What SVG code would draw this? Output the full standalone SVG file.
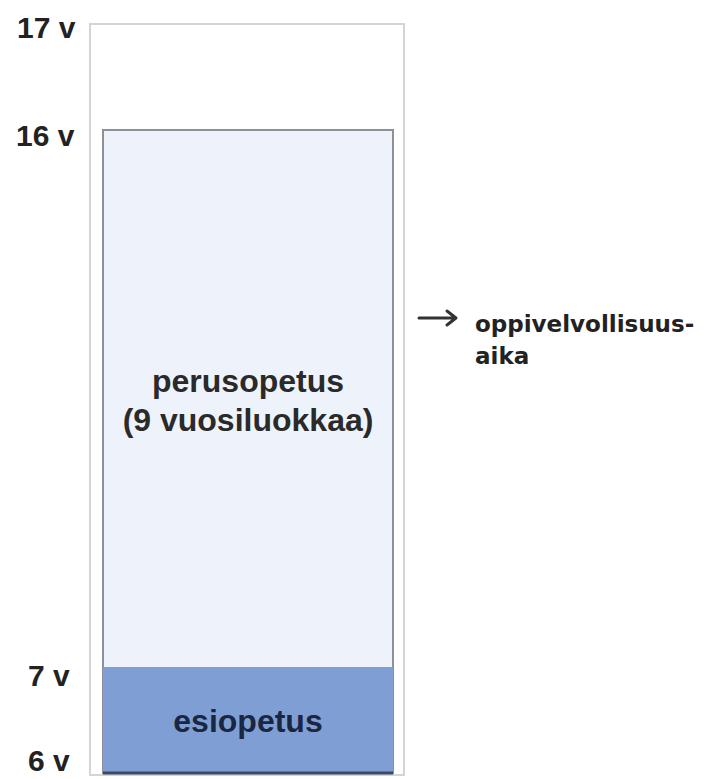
<svg xmlns="http://www.w3.org/2000/svg" width="707" height="779" viewBox="0 0 707 779">
<defs>
<style>
.age{font-family:"Liberation Sans",Arial,sans-serif;font-weight:bold;font-size:30px;fill:#222;}
.lbl{font-family:"Liberation Sans",Arial,sans-serif;font-weight:bold;font-size:32px;text-anchor:middle;}
.note{font-family:"DejaVu Sans",Verdana,sans-serif;font-weight:bold;font-size:23px;fill:#222;}
.arrow{fill:none;stroke:#333;stroke-width:3;stroke-linecap:round;stroke-linejoin:round;}
</style>
</defs>
<rect width="707" height="779" fill="#ffffff"/>
<g id="frame">
<rect x="90" y="24" width="314" height="751" fill="#ffffff" stroke="#d4d4d4" stroke-width="2"/>
</g>
<g id="perusopetus">
<rect x="103" y="130" width="290" height="643" fill="#eef3fb" stroke="#8c9099" stroke-width="2"/>
<text class="lbl" x="248" y="392" fill="#2a2a2a">perusopetus</text>
<text class="lbl" x="248" y="431" fill="#2a2a2a">(9 vuosiluokkaa)</text>
</g>
<g id="esiopetus">
<rect x="103" y="667" width="290" height="106" fill="#7f9fd4"/>
<line x1="103" y1="773" x2="393" y2="773" stroke="#3c4866" stroke-width="3"/>
<text class="lbl" x="248" y="732" fill="#1b2742">esiopetus</text>
</g>
<g id="ages">
<text class="age" x="17" y="38">17 v</text>
<text class="age" x="16" y="146">16 v</text>
<text class="age" x="28" y="686">7 v</text>
<text class="age" x="28" y="771">6 v</text>
</g>
<g id="connectors">
<path class="arrow" d="M419,318 L455,318 M447,311 L456,318 L447,325"/>
</g>
<g id="oppivelvollisuus">
<text class="note" x="475" y="332">oppivelvollisuus-</text>
<text class="note" x="475" y="364">aika</text>
</g>
</svg>
